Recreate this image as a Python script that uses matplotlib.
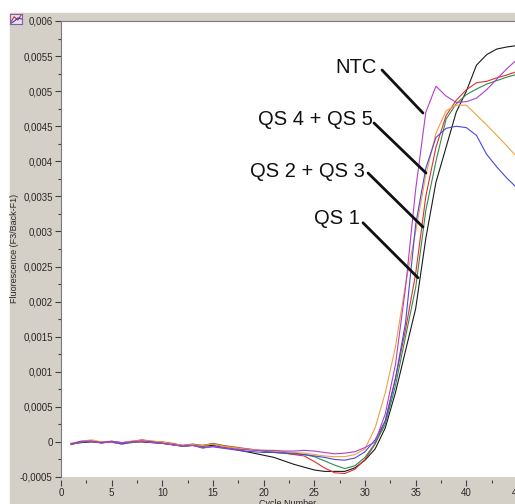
import numpy as np
import matplotlib
matplotlib.use("Agg")
import matplotlib.pyplot as plt
from matplotlib.patches import Rectangle
from matplotlib.ticker import MultipleLocator, FuncFormatter

plt.rcParams['font.family'] = ['Liberation Sans', 'DejaVu Sans']

# cycle numbers and fluorescence readings (x 1e-4)
cycles = np.arange(1, 46)

purple = [-0.4, 0.0, 0.1, -0.2, 0.1, -0.1, 0.0, 0.1, -0.1, -0.2,
          -0.4, -0.6, -0.5, -0.9, -0.6, -0.8, -1.0, -1.1, -1.2, -1.2,
          -1.2, -1.3, -1.3, -1.2, -1.3, -1.5, -1.7, -1.6, -1.4, -0.8,
          0.0, 4.0, 11.0, 22.0, 36.0, 47.0, 50.7, 49.3, 48.4, 48.5,
          49.0, 50.2, 51.7, 53.2, 54.5]
blue = [-0.3, 0.1, 0.1, -0.1, 0.0, -0.3, 0.0, 0.1, 0.0, -0.2,
        -0.4, -0.6, -0.5, -0.8, -0.7, -0.9, -1.1, -1.3, -1.4, -1.5,
        -1.5, -1.6, -1.7, -1.8, -2.0, -2.2, -2.5, -2.6, -2.3, -1.4,
        0.3, 3.0, 9.0, 17.0, 31.0, 39.0, 43.4, 44.7, 45.0, 44.8,
        43.7, 41.0, 39.2, 37.6, 36.2]
orange = [-0.2, 0.1, 0.3, 0.0, -0.1, -0.2, 0.1, 0.2, 0.1, 0.0,
          -0.3, -0.5, -0.4, -0.5, -0.3, -0.6, -0.8, -1.0, -1.1, -1.2,
          -1.3, -1.4, -1.5, -1.6, -1.8, -2.0, -2.1, -2.1, -1.8, -1.0,
          2.0, 7.0, 13.5, 22.5, 30.0, 38.0, 44.0, 47.2, 48.0, 48.0,
          46.6, 45.2, 43.7, 42.2, 40.6]
green = [-0.3, 0.0, 0.1, -0.1, 0.0, -0.3, -0.1, 0.1, 0.0, -0.1,
         -0.3, -0.5, -0.4, -0.5, -0.3, -0.6, -0.8, -1.0, -1.1, -1.3,
         -1.4, -1.5, -1.6, -1.8, -2.1, -2.7, -3.3, -3.8, -3.4, -2.2,
         -0.2, 2.5, 8.0, 15.0, 22.0, 33.0, 40.0, 46.0, 48.2, 49.5,
         50.3, 51.0, 51.5, 52.0, 52.4]
red = [-0.2, 0.0, 0.1, 0.0, 0.1, -0.1, 0.1, 0.3, 0.1, 0.0,
       -0.2, -0.5, -0.3, -0.5, -0.2, -0.5, -0.7, -0.9, -1.1, -1.3,
       -1.5, -1.6, -1.8, -2.0, -2.8, -3.7, -4.4, -4.5, -3.9, -2.5,
       -0.3, 3.0, 9.0, 16.0, 24.0, 35.0, 42.0, 46.5, 48.7, 50.2,
       51.2, 51.4, 51.9, 52.3, 52.8]
black = [-0.3, -0.1, 0.0, -0.1, 0.0, -0.2, 0.0, 0.0, -0.1, -0.2,
         -0.4, -0.6, -0.5, -0.6, -0.5, -0.8, -1.0, -1.3, -1.6, -1.9,
         -2.2, -2.7, -3.2, -3.6, -4.0, -4.2, -4.2, -4.2, -3.7, -2.6,
         -1.0, 2.0, 7.0, 13.0, 19.0, 29.0, 37.0, 42.0, 47.0, 50.0,
         53.7, 55.2, 56.0, 56.3, 56.5]

series = [(black, '#1a1a1a'), (red, '#e0302c'), (green, '#2e8b50'),
          (orange, '#f2a040'), (blue, '#4848dc'), (purple, '#b040c8')]

# labels: text anchor (right, baseline) and pointer line start/end, data coords
labels = ["NTC", "QS 4 + QS 5", "QS 2 + QS 3", "QS 1"]
label_pos = [(31.19, 0.005259), (30.79, 0.004517), (30.0, 0.003776), (29.5, 0.003110)]
pointer_start = [(31.68, 0.005301), (30.89, 0.004546), (30.30, 0.003833), (29.80, 0.003124)]
pointer_end = [(35.72, 0.004688), (36.02, 0.003833), (35.72, 0.003063), (35.23, 0.002340)]

W, H = 515, 504
fig = plt.figure(figsize=(W / 100, H / 100), dpi=100)
fig.patch.set_facecolor('white')
fig.patches.append(Rectangle((10 / W, 0), (W - 10) / W, (H - 13) / H,
                             transform=fig.transFigure, color='#d4d0c8', zorder=-5))

ax = fig.add_axes([61 / W, 27 / H, 456 / W, 456 / H])
ax.set_zorder(2)
ax.set_facecolor('white')

for vals, col in series:
    ax.plot(cycles, np.array(vals) * 1e-4, color=col, lw=0.8)

for txt, tp, ps, pe in zip(labels, label_pos, pointer_start, pointer_end):
    ax.text(tp[0], tp[1], txt, ha='right', va='baseline', fontsize=14.5, color='#111111')
    ax.annotate('', xy=pe, xytext=ps,
                arrowprops=dict(arrowstyle='-', lw=2.0, color='#111111',
                                shrinkA=0, shrinkB=0))

ax.set_xlim(0, 45)
ax.set_ylim(-0.0005, 0.006)
ax.xaxis.set_major_locator(MultipleLocator(5))
ax.xaxis.set_minor_locator(MultipleLocator(2.5))
ax.yaxis.set_major_locator(MultipleLocator(0.0005))
ax.yaxis.set_minor_locator(MultipleLocator(0.00025))


def comma_fmt(v, pos):
    s = f"{v:.4f}".rstrip('0').rstrip('.')
    if s in ("-0", ""):
        s = "0"
    return s.replace('.', ',')


ax.yaxis.set_major_formatter(FuncFormatter(comma_fmt))
ax.tick_params(axis='both', which='major', length=4.5, width=0.8, color='#404040',
               labelsize=7, labelcolor='#2a2a2a', pad=1.5)
ax.tick_params(axis='both', which='minor', length=2, width=0.8, color='#404040')

for side in ['right', 'bottom']:
    ax.spines[side].set_visible(False)
ax.spines['bottom'].set_position(('outward', 2.2))
ax.spines['top'].set_color('#7a7a7a')
ax.spines['left'].set_color('#7a7a7a')

fig.text(15 / W, (H - 248) / H, 'Fluorescence (F3/Back-F1)', rotation=90,
         ha='center', va='center', fontsize=6.5, color='#2a2a2a')
fig.text(288 / W, (H - 499) / H, 'Cycle Number', ha='center', va='top',
         fontsize=6.5, color='#2a2a2a')

# small chart icon in the corner
icon = fig.add_axes([10 / W, (H - 24) / H, 12 / W, 10 / H])
icon.set_zorder(3)
icon.set_facecolor('#e8e0f0')
icon.plot([0, 1, 2, 3], [0.2, 0.7, 0.4, 0.9], color='#d03030', lw=0.8)
icon.plot([0, 1, 2, 3], [0.1, 0.3, 0.6, 0.5], color='#3040c0', lw=0.8)
icon.set_xticks([])
icon.set_yticks([])
for s in icon.spines.values():
    s.set_color('#8060a0')

fig.savefig('out.png', dpi=100)
